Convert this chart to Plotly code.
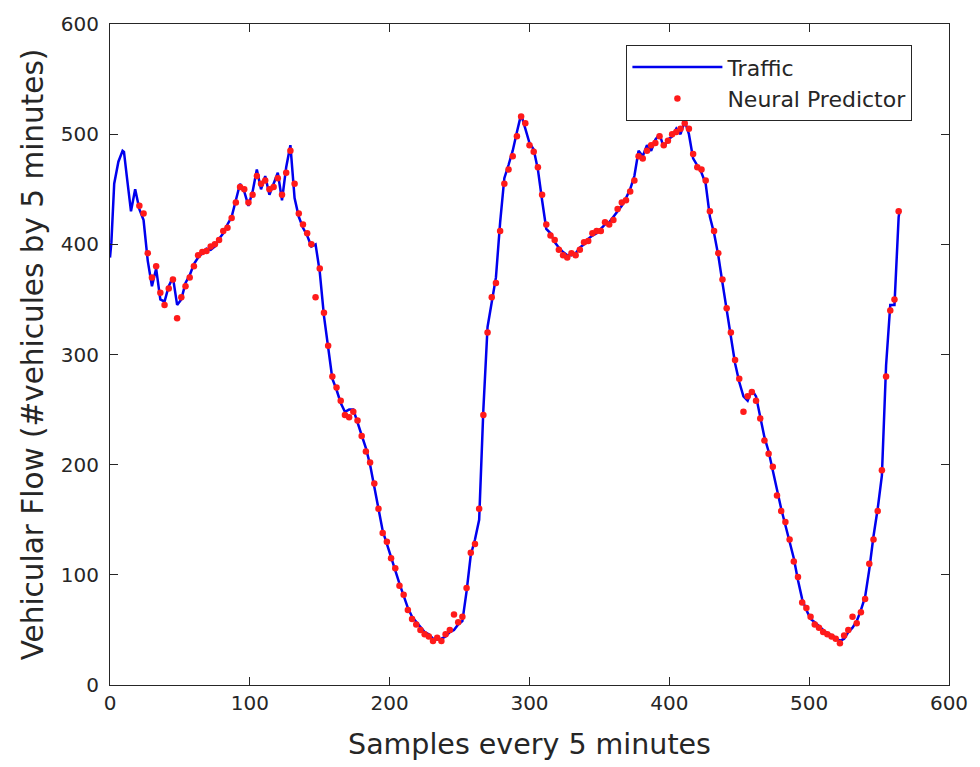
import plotly.graph_objects as go

# Traffic (blue line): sample index and vehicular flow
traffic_x = [0, 1, 3, 6, 9, 10, 12, 15, 18,
             21, 24, 27, 30, 33, 36, 39, 42, 45, 48, 51, 54, 57, 60, 63, 66, 69, 72, 75, 78,
             81, 84, 87, 90, 93, 96, 99, 102, 105, 108, 111, 114, 117, 120, 123, 126, 129, 132, 135, 138,
             141, 144, 147, 150, 153, 156, 159, 162, 165, 168, 171, 174, 177, 180, 183, 186, 189, 192, 195, 198,
             201, 204, 207, 210, 213, 216, 219, 222, 225, 228, 231, 234, 237, 240, 243, 246, 249, 252, 255, 258,
             261, 264, 267, 270, 273, 276, 279, 282, 285, 288, 291, 294, 297, 300, 303, 306, 309, 312, 315, 318,
             321, 324, 327, 330, 333, 336, 339, 342, 345, 348, 351, 354, 357, 360, 363, 366, 369, 372, 375, 378,
             381, 384, 387, 390, 393, 396, 399, 402, 405, 408, 411, 414, 417, 420, 423, 426, 429, 432, 435, 438,
             441, 444, 447, 450, 453, 456, 459, 462, 465, 468, 471, 474, 477, 480, 483, 486, 489, 492, 495, 498,
             501, 504, 507, 510, 513, 516, 519, 522, 525, 528, 531, 534, 537, 540, 543, 546, 549, 552, 555, 558,
             561, 564, 565]
traffic_y = [388, 402, 455, 475, 485, 484, 462, 430, 450,
             432, 422, 385, 362, 378, 350, 348, 362, 370, 345, 350, 365, 372, 382, 388, 392, 396, 395, 398, 405,
             410, 418, 425, 440, 455, 448, 435, 448, 468, 450, 462, 445, 455, 465, 440, 470, 490, 442, 425, 415,
             408, 398, 400, 375, 335, 305, 278, 268, 256, 248, 250, 250, 238, 228, 215, 200, 180, 158, 140, 128,
             117, 104, 92, 81, 70, 62, 57, 52, 48, 46, 42, 41, 42, 44, 48, 50, 55, 58, 85, 118,
             132, 150, 250, 325, 348, 370, 420, 460, 472, 485, 502, 518, 505, 492, 486, 468, 440, 414, 410, 402,
             397, 393, 390, 390, 392, 397, 400, 405, 408, 410, 414, 418, 420, 425, 430, 435, 442, 450, 462, 485,
             480, 490, 485, 495, 500, 488, 495, 498, 505, 500, 512, 500, 478, 472, 465, 455, 425, 410, 390, 365,
             340, 318, 292, 275, 262, 258, 268, 262, 245, 225, 212, 195, 175, 160, 145, 130, 115, 95, 78, 68,
             60, 57, 53, 50, 47, 45, 43, 40, 42, 48, 52, 58, 68, 80, 105, 135, 160, 190, 290, 345,
             345, 425, 432]

# Neural predictor (red dots)
pred_x = [21, 24, 27, 30, 33, 36, 39, 42, 45, 48, 51, 54, 57, 60, 63, 66, 69, 72, 75, 78,
          81, 84, 87, 90, 93, 96, 99, 102, 105, 108, 111, 114, 117, 120, 123, 126, 129, 132, 135, 138,
          141, 144, 147, 150, 153, 156, 159, 162, 165, 168, 171, 174, 177, 180, 183, 186, 189, 192, 195, 198,
          201, 204, 207, 210, 213, 216, 219, 222, 225, 228, 231, 234, 237, 240, 243, 246, 249, 252, 255, 258,
          261, 264, 267, 270, 273, 276, 279, 282, 285, 288, 291, 294, 297, 300, 303, 306, 309, 312, 315, 318,
          321, 324, 327, 330, 333, 336, 339, 342, 345, 348, 351, 354, 357, 360, 363, 366, 369, 372, 375, 378,
          381, 384, 387, 390, 393, 396, 399, 402, 405, 408, 411, 414, 417, 420, 423, 426, 429, 432, 435, 438,
          441, 444, 447, 450, 453, 456, 459, 462, 465, 468, 471, 474, 477, 480, 483, 486, 489, 492, 495, 498,
          501, 504, 507, 510, 513, 516, 519, 522, 525, 528, 531, 534, 537, 540, 543, 546, 549, 552, 555, 558,
          561, 564]
pred_y = [435, 428, 392, 370, 380, 356, 345, 360, 368, 333, 352, 362, 370, 380, 390, 393, 394, 398, 400, 404,
          412, 415, 424, 438, 452, 450, 438, 445, 462, 455, 458, 450, 452, 460, 445, 465, 485, 455, 428, 418,
          410, 400, 352, 378, 338, 308, 280, 270, 258, 245, 243, 248, 240, 226, 212, 202, 183, 160, 138, 130,
          115, 106, 90, 82, 68, 60, 55, 50, 46, 44, 40, 43, 40, 46, 50, 64, 57, 62, 88, 120,
          128, 160, 245, 320, 352, 365, 412, 455, 468, 480, 498, 516, 510, 490, 484, 470, 445, 418, 408, 404,
          395, 390, 388, 392, 390, 395, 402, 403, 410, 412, 412, 420, 418, 422, 432, 438, 440, 448, 458, 480,
          478, 485, 490, 492, 498, 490, 494, 500, 502, 505, 510, 505, 482, 470, 468, 458, 430, 412, 392, 368,
          342, 320, 295, 278, 248, 262, 266, 258, 242, 222, 210, 198, 172, 158, 148, 132, 112, 98, 75, 70,
          62, 55, 52, 48, 46, 44, 42, 38, 45, 50, 62, 56, 66, 78, 110, 132, 158, 195, 280, 340,
          350, 430]

x_ticks = [0, 100, 200, 300, 400, 500, 600]
y_ticks = [0, 100, 200, 300, 400, 500, 600]

axis_color = "#262626"
font_family = "DejaVu Sans"

fig = go.Figure()
fig.add_trace(go.Scatter(
    x=traffic_x, y=traffic_y, mode="lines", name="Traffic",
    line=dict(color="#0000ee", width=2.5),
))
fig.add_trace(go.Scatter(
    x=pred_x, y=pred_y, mode="markers", name="Neural Predictor",
    marker=dict(color="#ff1a1a", size=6.5, line=dict(width=0)),
))

axis_common = dict(
    showgrid=False, zeroline=False, showline=True, linecolor=axis_color, linewidth=1,
    mirror="ticks", ticks="inside", ticklen=8, tickwidth=1, tickcolor=axis_color,
    tickfont=dict(family=font_family, size=20, color=axis_color),
)

fig.update_layout(
    width=980, height=767,
    margin=dict(l=110, r=30, t=22, b=81),
    paper_bgcolor="white", plot_bgcolor="white",
    font=dict(family=font_family, color=axis_color),
    xaxis=dict(range=[0, 600], tickvals=x_ticks,
               title=dict(text="Samples every 5 minutes", font=dict(size=28.5, color=axis_color), standoff=20),
               **axis_common),
    yaxis=dict(range=[0, 600], tickvals=y_ticks, ticklabelstandoff=6,
               title=dict(text="Vehicular Flow (#vehicules by 5 minutes)", font=dict(size=29.5, color=axis_color), standoff=8),
               **axis_common),
    legend=dict(x=0.6155, y=0.968, xanchor="left", yanchor="top",
                bgcolor="white", bordercolor=axis_color, borderwidth=1,
                font=dict(family=font_family, size=22, color=axis_color),
                itemwidth=90, tracegroupgap=0),
    showlegend=True,
)

fig.write_html("out.html")
